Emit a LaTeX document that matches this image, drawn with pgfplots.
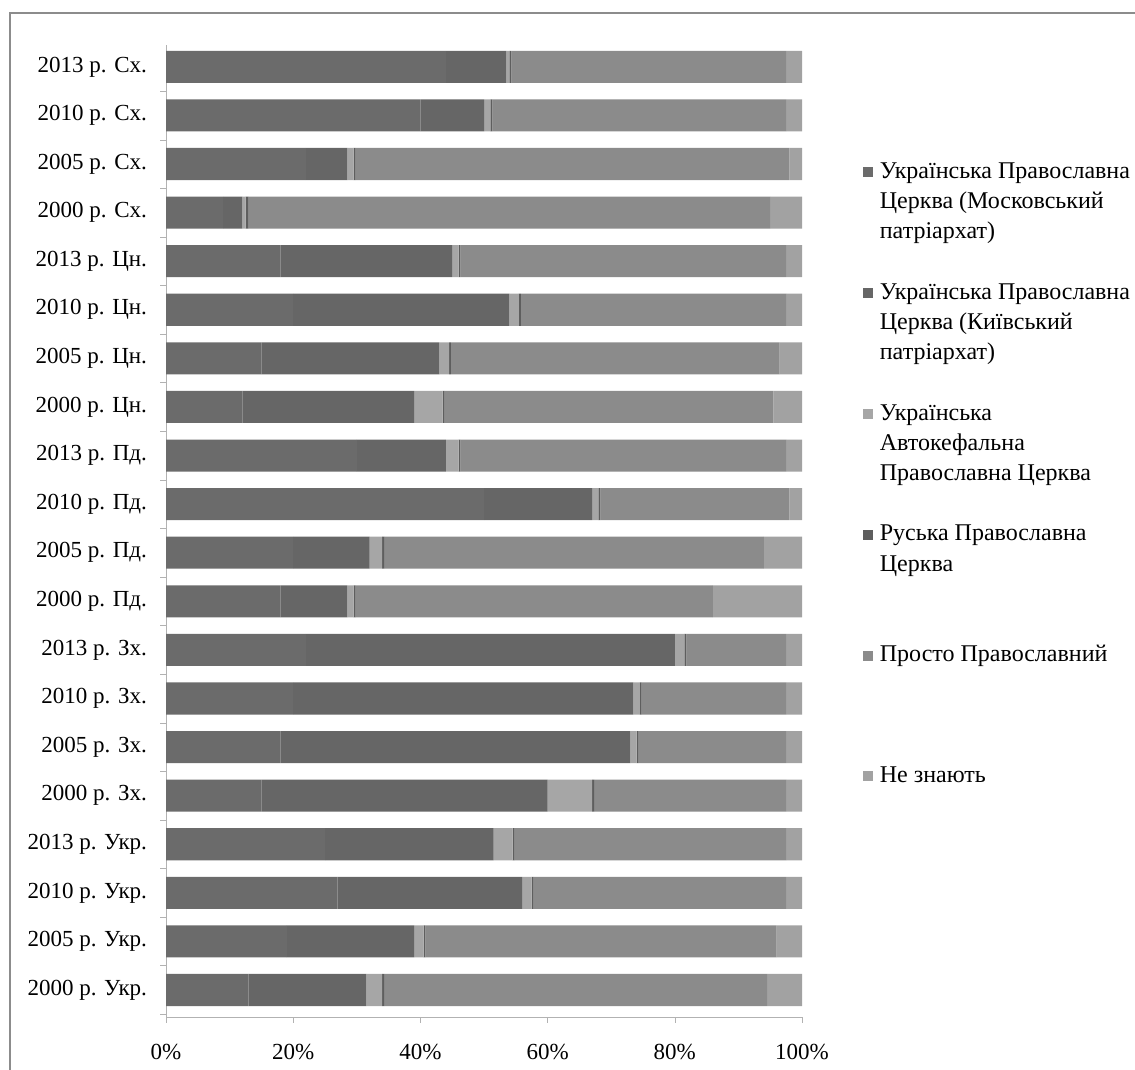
\documentclass[border=0pt]{standalone}
\usepackage{fontspec}
\setmainfont{Liberation Serif}
\usepackage{pgfplots}
\usepackage{pgfplotstable}
\pgfplotsset{compat=1.18}

\definecolor{cmp}{HTML}{6B6B6B}
\definecolor{ckp}{HTML}{666666}
\definecolor{cua}{HTML}{A6A6A6}
\definecolor{cru}{HTML}{5E5E5E}
\definecolor{cpr}{HTML}{8B8B8B}
\definecolor{cnz}{HTML}{A2A2A2}
\definecolor{frame}{HTML}{8C8C8C}

% y: 0 = 2000 Укр (bottom) ... 19 = 2013 Сх (top)
\pgfplotstableread{
y  mp  kp   ua  ru  pr   nz
0  13  18.5 2.5 0.3 60.2 5.5
1  19  20   1.5 0.3 55.2 4
2  27  29   1.5 0.3 39.7 2.5
3  25  26.5 3   0.3 42.7 2.5
4  15  45   7   0.3 30.2 2.5
5  18  55   1   0.3 23.2 2.5
6  20  53.5 1   0.3 22.7 2.5
7  22  58   1.5 0.3 15.7 2.5
8  18  10.5 1   0.3 56.2 14
9  20  12   2   0.3 59.7 6
10 50  17   1   0.3 29.7 2
11 30  14   2   0.3 51.2 2.5
12 12  27   4.5 0.3 51.7 4.5
13 15  28   1.5 0.3 51.7 3.5
14 20  34   1.5 0.3 41.7 2.5
15 18  27   1   0.3 51.2 2.5
16 9   3    0.5 0.5 82   5
17 22  6.5  1   0.3 68.2 2
18 40  10   1   0.3 46.2 2.5
19 44  9.5  0.5 0.3 43.2 2.5
}\data

\begin{document}
\begin{tikzpicture}
\useasboundingbox (0pt,0pt) rectangle (567.5pt,535pt);
\draw[line width=1.3pt, frame] (5pt,0pt) -- (5pt,528.5pt) -- (567.5pt,528.5pt);
\begin{axis}[
	at={(83pt,26.5pt)}, anchor=south west,
	scale only axis, width=318pt, height=486pt,
	xbar stacked, bar width=0.66,
	xmin=0, xmax=100, ymin=-0.556, ymax=19.45,
	axis x line*=bottom, axis y line*=left,
	axis line style={draw=gray!60, -},
	xtick={0,20,...,100},
	xticklabels={0\%,20\%,40\%,60\%,80\%,100\%},
	ytick={0,...,19},
	yticklabels={2000 р. Укр.,2005 р. Укр.,2010 р. Укр.,2013 р. Укр.,
		2000 р. Зх.,2005 р. Зх.,2010 р. Зх.,2013 р. Зх.,
		2000 р. Пд.,2005 р. Пд.,2010 р. Пд.,2013 р. Пд.,
		2000 р. Цн.,2005 р. Цн.,2010 р. Цн.,2013 р. Цн.,
		2000 р. Сх.,2005 р. Сх.,2010 р. Сх.,2013 р. Сх.},
	minor ytick={-0.5,0.5,...,19.5},
	tick align=outside,
	major tick length=3pt, minor tick length=3pt,
	every major y tick/.append style={draw=none},
	tick style={draw=gray!60},
	ticklabel style={font=\fontsize{11.5}{13}\selectfont},
	yticklabel style={xshift=-3pt},
	xticklabel style={yshift=-7pt},
	legend style={at={(1.096,0.885)}, anchor=north west, draw=none, fill=none,
		inner sep=0pt, outer sep=0pt, row sep=0pt, column sep=3pt,
		font=\fontsize{12}{14.5}\selectfont,
		nodes={text height=10.5pt, text depth=3.8pt, inner sep=0.4pt}},
	legend cell align=left,
	legend image code/.code={\fill[#1] (0pt,-2.8pt) rectangle (5pt,2.2pt);},
]
\addplot[fill=cmp, draw=none] table[x=mp, y=y] {\data};
\addlegendentry{Українська Православна}
\addlegendimage{empty legend}\addlegendentry{Церква (Московський}
\addlegendimage{empty legend}\addlegendentry{патріархат)}
\addlegendimage{empty legend}\addlegendentry{}
\addplot[fill=ckp, draw=none] table[x=kp, y=y] {\data};
\addlegendentry{Українська Православна}
\addlegendimage{empty legend}\addlegendentry{Церква (Київський}
\addlegendimage{empty legend}\addlegendentry{патріархат)}
\addlegendimage{empty legend}\addlegendentry{}
\addplot[fill=cua, draw=none] table[x=ua, y=y] {\data};
\addlegendentry{Українська}
\addlegendimage{empty legend}\addlegendentry{Автокефальна}
\addlegendimage{empty legend}\addlegendentry{Православна Церква}
\addlegendimage{empty legend}\addlegendentry{}
\addplot[fill=cru, draw=none] table[x=ru, y=y] {\data};
\addlegendentry{Руська Православна}
\addlegendimage{empty legend}\addlegendentry{Церква}
\addlegendimage{empty legend}\addlegendentry{}
\addlegendimage{empty legend}\addlegendentry{}
\addplot[fill=cpr, draw=none] table[x=pr, y=y] {\data};
\addlegendentry{Просто Православний}
\addlegendimage{empty legend}\addlegendentry{}
\addlegendimage{empty legend}\addlegendentry{}
\addlegendimage{empty legend}\addlegendentry{}
\addplot[fill=cnz, draw=none] table[x=nz, y=y] {\data};
\addlegendentry{Не знають}
\end{axis}
\end{tikzpicture}
\end{document}
